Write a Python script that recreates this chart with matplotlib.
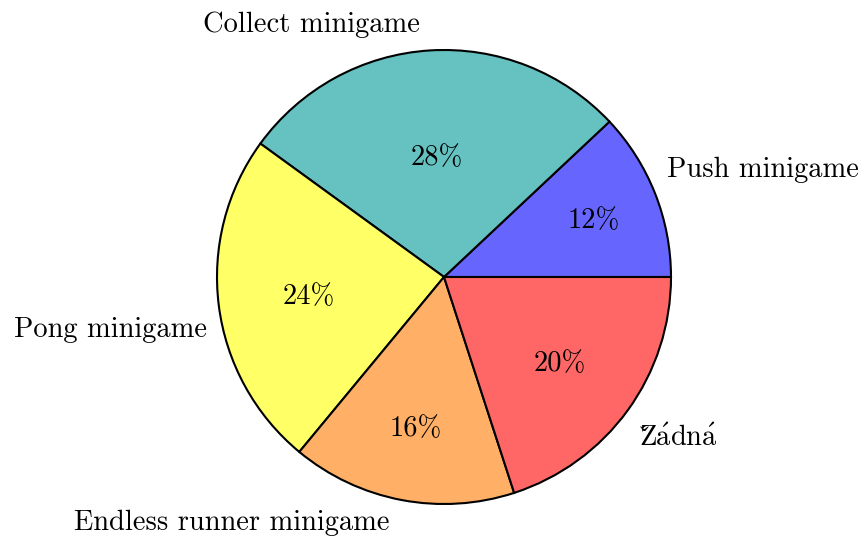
import matplotlib
matplotlib.use("Agg")
import matplotlib.pyplot as plt
import numpy as np

plt.rcParams['font.family'] = ['cmr10', 'DejaVu Serif']
plt.rcParams['mathtext.fontset'] = 'cm'
plt.rcParams['axes.unicode_minus'] = False

labels = ["Push minigame", "Collect minigame", "Pong minigame",
          "Endless runner minigame", r"$\mathrm{\check{}\!\!\!Z\acute{a}dn\acute{a}}$"]
values = [12, 28, 24, 16, 20]
colors = ["#6666ff", "#66c1c1", "#ffff66", "#ffb066", "#ff6666"]

# layout tweaks (style only)
pct_radius = [0.71, 0.54, 0.60, 0.67, 0.63]
label_offset = [(-0.04, 0.067), (-0.037, 0.015), (0.047, -0.097),
                (-0.032, -0.004), (-0.027, -0.066)]
pct_shift = -0.013

fig = plt.figure(figsize=(8.64, 5.36), dpi=100)
ax = fig.add_axes([0, 0, 1, 1])
wedges, texts, autotexts = ax.pie(
    values, labels=labels, colors=colors, startangle=0, counterclock=True,
    autopct=lambda p: f"{p:.0f}%", pctdistance=0.68, labeldistance=1.1,
    wedgeprops=dict(edgecolor="black", linewidth=1.5),
    textprops=dict(fontsize=20.5, color="black"))

for w, t, at, pr, off in zip(wedges, texts, autotexts, pct_radius, label_offset):
    mid = np.deg2rad((w.theta1 + w.theta2) / 2)
    at.set_position((pr * np.cos(mid), pr * np.sin(mid) + pct_shift))
    x, y = t.get_position()
    t.set_position((x + off[0], y + off[1]))

s = 227.0
ax.set_xlim(-444 / s, (864 - 444) / s)
ax.set_ylim(-(536 - 277) / s, 277 / s)
ax.set_aspect('auto')
ax.axis('off')
fig.savefig("out.png", dpi=100)
